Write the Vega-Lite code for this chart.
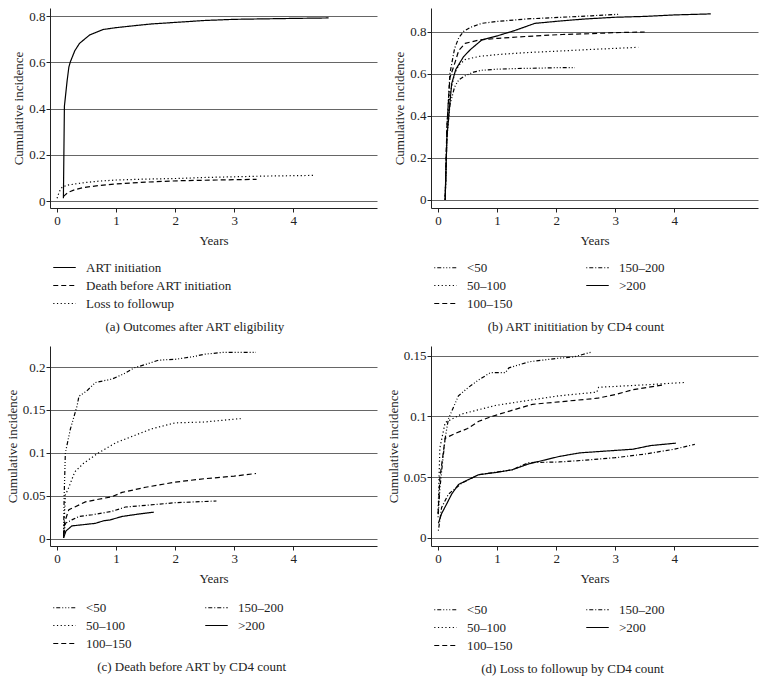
{
  "$schema": "https://vega.github.io/schema/vega-lite/v6.json",
  "padding": {"left": 6, "top": 8, "right": 5, "bottom": 5},
  "background": "white",
  "columns": 2,
  "spacing": {"row": 12, "column": 10},
  "resolve": {"scale": {"strokeDash": "independent"}, "legend": {"strokeDash": "independent"}},
  "config": {
    "font": "Liberation Serif",
    "view": {"stroke": null},
    "axis": {"labelFont": "Liberation Serif", "labelFontSize": 13, "labelColor": "#222", "titleFont": "Liberation Serif", "titleFontSize": 13, "titleFontWeight": "normal", "titleColor": "#222", "domainColor": "#222", "tickColor": "#222", "tickSize": 4, "gridColor": "#666", "gridWidth": 1, "labelPadding": 2},
    "axisY": {"grid": true, "titlePadding": 3, "labelPadding": 1},
    "axisX": {"grid": false, "titlePadding": 7},
    "legend": {"labelFont": "Liberation Serif", "labelFontSize": 13, "labelColor": "#222", "symbolType": "M-1.5,0H1.5", "symbolSize": 225, "symbolStrokeWidth": 1.5, "symbolStrokeColor": "black", "symbolFillColor": "transparent", "labelOffset": 13, "rowPadding": 2, "columnPadding": 70, "direction": "vertical"},
    "title": {"orient": "bottom", "anchor": "middle", "frame": "bounds", "fontSize": 13, "fontWeight": "normal", "font": "Liberation Serif", "color": "#222", "offset": 10},
    "line": {"stroke": "black", "strokeWidth": 1.2}
  },
  "datasets": {
    "a": [
      {"t": 0.107, "y": 0.012, "g": "ART initiation"},
      {"t": 0.115, "y": 0.2, "g": "ART initiation"},
      {"t": 0.124, "y": 0.41, "g": "ART initiation"},
      {"t": 0.17, "y": 0.52, "g": "ART initiation"},
      {"t": 0.2, "y": 0.58, "g": "ART initiation"},
      {"t": 0.226, "y": 0.603, "g": "ART initiation"},
      {"t": 0.3, "y": 0.65, "g": "ART initiation"},
      {"t": 0.38, "y": 0.682, "g": "ART initiation"},
      {"t": 0.55, "y": 0.718, "g": "ART initiation"},
      {"t": 0.78, "y": 0.742, "g": "ART initiation"},
      {"t": 1.0, "y": 0.75, "g": "ART initiation"},
      {"t": 1.29, "y": 0.758, "g": "ART initiation"},
      {"t": 1.6, "y": 0.766, "g": "ART initiation"},
      {"t": 2.08, "y": 0.774, "g": "ART initiation"},
      {"t": 2.5, "y": 0.781, "g": "ART initiation"},
      {"t": 3.0, "y": 0.786, "g": "ART initiation"},
      {"t": 3.5, "y": 0.788, "g": "ART initiation"},
      {"t": 4.0, "y": 0.79, "g": "ART initiation"},
      {"t": 4.6, "y": 0.792, "g": "ART initiation"},
      {"t": 0.107, "y": 0.019, "g": "Death before ART initiation"},
      {"t": 0.15, "y": 0.03, "g": "Death before ART initiation"},
      {"t": 0.21, "y": 0.04, "g": "Death before ART initiation"},
      {"t": 0.3, "y": 0.049, "g": "Death before ART initiation"},
      {"t": 0.44, "y": 0.058, "g": "Death before ART initiation"},
      {"t": 0.7, "y": 0.067, "g": "Death before ART initiation"},
      {"t": 1.0, "y": 0.074, "g": "Death before ART initiation"},
      {"t": 1.5, "y": 0.082, "g": "Death before ART initiation"},
      {"t": 2.08, "y": 0.088, "g": "Death before ART initiation"},
      {"t": 2.7, "y": 0.091, "g": "Death before ART initiation"},
      {"t": 3.38, "y": 0.094, "g": "Death before ART initiation"},
      {"t": 0.0, "y": 0.012, "g": "Loss to followup"},
      {"t": 0.03, "y": 0.035, "g": "Loss to followup"},
      {"t": 0.06, "y": 0.052, "g": "Loss to followup"},
      {"t": 0.095, "y": 0.062, "g": "Loss to followup"},
      {"t": 0.2, "y": 0.07, "g": "Loss to followup"},
      {"t": 0.44, "y": 0.079, "g": "Loss to followup"},
      {"t": 0.7, "y": 0.086, "g": "Loss to followup"},
      {"t": 1.0, "y": 0.091, "g": "Loss to followup"},
      {"t": 1.5, "y": 0.095, "g": "Loss to followup"},
      {"t": 2.08, "y": 0.098, "g": "Loss to followup"},
      {"t": 2.5, "y": 0.102, "g": "Loss to followup"},
      {"t": 3.0, "y": 0.105, "g": "Loss to followup"},
      {"t": 3.5, "y": 0.108, "g": "Loss to followup"},
      {"t": 4.35, "y": 0.111, "g": "Loss to followup"}
    ],
    "b": [
      {"t": 0.12, "y": 0.0, "g": "<50"},
      {"t": 0.15, "y": 0.3, "g": "<50"},
      {"t": 0.2, "y": 0.45, "g": "<50"},
      {"t": 0.28, "y": 0.537, "g": "<50"},
      {"t": 0.35, "y": 0.57, "g": "<50"},
      {"t": 0.46, "y": 0.59, "g": "<50"},
      {"t": 0.6, "y": 0.607, "g": "<50"},
      {"t": 0.74, "y": 0.616, "g": "<50"},
      {"t": 1.0, "y": 0.621, "g": "<50"},
      {"t": 1.3, "y": 0.624, "g": "<50"},
      {"t": 1.7, "y": 0.626, "g": "<50"},
      {"t": 2.1, "y": 0.629, "g": "<50"},
      {"t": 2.32, "y": 0.628, "g": "<50"},
      {"t": 0.12, "y": 0.0, "g": "50–100"},
      {"t": 0.15, "y": 0.3, "g": "50–100"},
      {"t": 0.2, "y": 0.5, "g": "50–100"},
      {"t": 0.28, "y": 0.6, "g": "50–100"},
      {"t": 0.35, "y": 0.64, "g": "50–100"},
      {"t": 0.46, "y": 0.667, "g": "50–100"},
      {"t": 0.7, "y": 0.682, "g": "50–100"},
      {"t": 1.02, "y": 0.691, "g": "50–100"},
      {"t": 1.5, "y": 0.7, "g": "50–100"},
      {"t": 2.1, "y": 0.708, "g": "50–100"},
      {"t": 2.6, "y": 0.715, "g": "50–100"},
      {"t": 3.0, "y": 0.72, "g": "50–100"},
      {"t": 3.39, "y": 0.725, "g": "50–100"},
      {"t": 0.12, "y": 0.0, "g": "100–150"},
      {"t": 0.15, "y": 0.35, "g": "100–150"},
      {"t": 0.2, "y": 0.58, "g": "100–150"},
      {"t": 0.29, "y": 0.656, "g": "100–150"},
      {"t": 0.35, "y": 0.71, "g": "100–150"},
      {"t": 0.46, "y": 0.744, "g": "100–150"},
      {"t": 0.7, "y": 0.76, "g": "100–150"},
      {"t": 1.02, "y": 0.768, "g": "100–150"},
      {"t": 1.5, "y": 0.777, "g": "100–150"},
      {"t": 2.1, "y": 0.786, "g": "100–150"},
      {"t": 2.6, "y": 0.79, "g": "100–150"},
      {"t": 3.0, "y": 0.795, "g": "100–150"},
      {"t": 3.5, "y": 0.798, "g": "100–150"},
      {"t": 0.12, "y": 0.0, "g": "150–200"},
      {"t": 0.15, "y": 0.35, "g": "150–200"},
      {"t": 0.2, "y": 0.6, "g": "150–200"},
      {"t": 0.28, "y": 0.72, "g": "150–200"},
      {"t": 0.35, "y": 0.77, "g": "150–200"},
      {"t": 0.43, "y": 0.8, "g": "150–200"},
      {"t": 0.55, "y": 0.82, "g": "150–200"},
      {"t": 0.74, "y": 0.839, "g": "150–200"},
      {"t": 1.0, "y": 0.848, "g": "150–200"},
      {"t": 1.5, "y": 0.86, "g": "150–200"},
      {"t": 2.1, "y": 0.868, "g": "150–200"},
      {"t": 2.6, "y": 0.875, "g": "150–200"},
      {"t": 3.05, "y": 0.882, "g": "150–200"},
      {"t": 0.12, "y": 0.0, "g": ">200"},
      {"t": 0.15, "y": 0.3, "g": ">200"},
      {"t": 0.23, "y": 0.552, "g": ">200"},
      {"t": 0.3, "y": 0.62, "g": ">200"},
      {"t": 0.43, "y": 0.68, "g": ">200"},
      {"t": 0.55, "y": 0.715, "g": ">200"},
      {"t": 0.74, "y": 0.76, "g": ">200"},
      {"t": 1.02, "y": 0.781, "g": ">200"},
      {"t": 1.3, "y": 0.805, "g": ">200"},
      {"t": 1.64, "y": 0.839, "g": ">200"},
      {"t": 2.1, "y": 0.851, "g": ">200"},
      {"t": 2.5, "y": 0.86, "g": ">200"},
      {"t": 3.0, "y": 0.868, "g": ">200"},
      {"t": 3.5, "y": 0.872, "g": ">200"},
      {"t": 4.0, "y": 0.879, "g": ">200"},
      {"t": 4.62, "y": 0.884, "g": ">200"}
    ],
    "c": [
      {"t": 0.11, "y": 0.001, "g": "<50"},
      {"t": 0.12, "y": 0.05, "g": "<50"},
      {"t": 0.14, "y": 0.1, "g": "<50"},
      {"t": 0.226, "y": 0.128, "g": "<50"},
      {"t": 0.34, "y": 0.155, "g": "<50"},
      {"t": 0.37, "y": 0.166, "g": "<50"},
      {"t": 0.5, "y": 0.172, "g": "<50"},
      {"t": 0.65, "y": 0.182, "g": "<50"},
      {"t": 0.93, "y": 0.186, "g": "<50"},
      {"t": 1.16, "y": 0.193, "g": "<50"},
      {"t": 1.3, "y": 0.199, "g": "<50"},
      {"t": 1.5, "y": 0.203, "g": "<50"},
      {"t": 1.72, "y": 0.208, "g": "<50"},
      {"t": 2.0, "y": 0.209, "g": "<50"},
      {"t": 2.3, "y": 0.212, "g": "<50"},
      {"t": 2.5, "y": 0.215, "g": "<50"},
      {"t": 2.8, "y": 0.217, "g": "<50"},
      {"t": 3.37, "y": 0.217, "g": "<50"},
      {"t": 0.11, "y": 0.003, "g": "50–100"},
      {"t": 0.14, "y": 0.051, "g": "50–100"},
      {"t": 0.2, "y": 0.06, "g": "50–100"},
      {"t": 0.3, "y": 0.078, "g": "50–100"},
      {"t": 0.45, "y": 0.088, "g": "50–100"},
      {"t": 0.7, "y": 0.1, "g": "50–100"},
      {"t": 1.0, "y": 0.112, "g": "50–100"},
      {"t": 1.3, "y": 0.12, "g": "50–100"},
      {"t": 1.6, "y": 0.128, "g": "50–100"},
      {"t": 2.0, "y": 0.135, "g": "50–100"},
      {"t": 2.5, "y": 0.136, "g": "50–100"},
      {"t": 3.11, "y": 0.14, "g": "50–100"},
      {"t": 0.11, "y": 0.005, "g": "100–150"},
      {"t": 0.13, "y": 0.02, "g": "100–150"},
      {"t": 0.2, "y": 0.034, "g": "100–150"},
      {"t": 0.3, "y": 0.037, "g": "100–150"},
      {"t": 0.48, "y": 0.043, "g": "100–150"},
      {"t": 0.7, "y": 0.046, "g": "100–150"},
      {"t": 0.93, "y": 0.049, "g": "100–150"},
      {"t": 1.1, "y": 0.054, "g": "100–150"},
      {"t": 1.5, "y": 0.06, "g": "100–150"},
      {"t": 2.0, "y": 0.066, "g": "100–150"},
      {"t": 2.5, "y": 0.07, "g": "100–150"},
      {"t": 3.0, "y": 0.073, "g": "100–150"},
      {"t": 3.37, "y": 0.076, "g": "100–150"},
      {"t": 0.11, "y": 0.002, "g": "150–200"},
      {"t": 0.14, "y": 0.018, "g": "150–200"},
      {"t": 0.25, "y": 0.022, "g": "150–200"},
      {"t": 0.37, "y": 0.026, "g": "150–200"},
      {"t": 0.6, "y": 0.028, "g": "150–200"},
      {"t": 0.93, "y": 0.032, "g": "150–200"},
      {"t": 1.16, "y": 0.037, "g": "150–200"},
      {"t": 1.5, "y": 0.039, "g": "150–200"},
      {"t": 2.0, "y": 0.042, "g": "150–200"},
      {"t": 2.7, "y": 0.044, "g": "150–200"},
      {"t": 0.11, "y": 0.001, "g": ">200"},
      {"t": 0.15, "y": 0.009, "g": ">200"},
      {"t": 0.25, "y": 0.015, "g": ">200"},
      {"t": 0.65, "y": 0.018, "g": ">200"},
      {"t": 0.79, "y": 0.021, "g": ">200"},
      {"t": 0.9, "y": 0.022, "g": ">200"},
      {"t": 1.1, "y": 0.026, "g": ">200"},
      {"t": 1.4, "y": 0.029, "g": ">200"},
      {"t": 1.64, "y": 0.031, "g": ">200"}
    ],
    "d": [
      {"t": 0.0, "y": 0.017, "g": "<50"},
      {"t": 0.03, "y": 0.04, "g": "<50"},
      {"t": 0.06, "y": 0.055, "g": "<50"},
      {"t": 0.12, "y": 0.082, "g": "<50"},
      {"t": 0.175, "y": 0.098, "g": "<50"},
      {"t": 0.345, "y": 0.117, "g": "<50"},
      {"t": 0.516, "y": 0.124, "g": "<50"},
      {"t": 0.686, "y": 0.13, "g": "<50"},
      {"t": 0.885, "y": 0.136, "g": "<50"},
      {"t": 1.14, "y": 0.136, "g": "<50"},
      {"t": 1.2, "y": 0.14, "g": "<50"},
      {"t": 1.54, "y": 0.145, "g": "<50"},
      {"t": 2.05, "y": 0.148, "g": "<50"},
      {"t": 2.3, "y": 0.149, "g": "<50"},
      {"t": 2.45, "y": 0.151, "g": "<50"},
      {"t": 2.6, "y": 0.153, "g": "<50"},
      {"t": 0.0, "y": 0.02, "g": "50–100"},
      {"t": 0.03, "y": 0.074, "g": "50–100"},
      {"t": 0.12, "y": 0.095, "g": "50–100"},
      {"t": 0.4, "y": 0.102, "g": "50–100"},
      {"t": 0.97, "y": 0.109, "g": "50–100"},
      {"t": 1.5, "y": 0.113, "g": "50–100"},
      {"t": 2.05, "y": 0.117, "g": "50–100"},
      {"t": 2.69, "y": 0.12, "g": "50–100"},
      {"t": 2.72, "y": 0.124, "g": "50–100"},
      {"t": 3.5, "y": 0.126, "g": "50–100"},
      {"t": 4.19, "y": 0.128, "g": "50–100"},
      {"t": 0.0, "y": 0.02, "g": "100–150"},
      {"t": 0.03, "y": 0.049, "g": "100–150"},
      {"t": 0.12, "y": 0.082, "g": "100–150"},
      {"t": 0.29, "y": 0.086, "g": "100–150"},
      {"t": 0.5, "y": 0.09, "g": "100–150"},
      {"t": 0.69, "y": 0.096, "g": "100–150"},
      {"t": 0.91, "y": 0.1, "g": "100–150"},
      {"t": 1.25, "y": 0.105, "g": "100–150"},
      {"t": 1.6, "y": 0.11, "g": "100–150"},
      {"t": 2.05, "y": 0.112, "g": "100–150"},
      {"t": 2.7, "y": 0.115, "g": "100–150"},
      {"t": 3.0, "y": 0.118, "g": "100–150"},
      {"t": 3.3, "y": 0.122, "g": "100–150"},
      {"t": 3.82, "y": 0.126, "g": "100–150"},
      {"t": 0.005, "y": 0.006, "g": "150–200"},
      {"t": 0.06, "y": 0.025, "g": "150–200"},
      {"t": 0.175, "y": 0.036, "g": "150–200"},
      {"t": 0.4, "y": 0.045, "g": "150–200"},
      {"t": 0.686, "y": 0.052, "g": "150–200"},
      {"t": 1.25, "y": 0.056, "g": "150–200"},
      {"t": 1.54, "y": 0.062, "g": "150–200"},
      {"t": 2.05, "y": 0.0625, "g": "150–200"},
      {"t": 2.5, "y": 0.064, "g": "150–200"},
      {"t": 3.0, "y": 0.066, "g": "150–200"},
      {"t": 3.5, "y": 0.069, "g": "150–200"},
      {"t": 4.0, "y": 0.073, "g": "150–200"},
      {"t": 4.35, "y": 0.077, "g": "150–200"},
      {"t": 0.005, "y": 0.012, "g": ">200"},
      {"t": 0.06, "y": 0.02, "g": ">200"},
      {"t": 0.146, "y": 0.028, "g": ">200"},
      {"t": 0.23, "y": 0.036, "g": ">200"},
      {"t": 0.345, "y": 0.044, "g": ">200"},
      {"t": 0.516, "y": 0.048, "g": ">200"},
      {"t": 0.686, "y": 0.052, "g": ">200"},
      {"t": 1.0, "y": 0.054, "g": ">200"},
      {"t": 1.25, "y": 0.056, "g": ">200"},
      {"t": 1.54, "y": 0.061, "g": ">200"},
      {"t": 2.05, "y": 0.067, "g": ">200"},
      {"t": 2.4, "y": 0.07, "g": ">200"},
      {"t": 3.0, "y": 0.072, "g": ">200"},
      {"t": 3.3, "y": 0.073, "g": ">200"},
      {"t": 3.6, "y": 0.076, "g": ">200"},
      {"t": 4.03, "y": 0.078, "g": ">200"}
    ]
  },
  "concat": [
    {
      "data": {"name": "a"},
      "width": 327, "height": 200,
      "title": {"text": "(a)  Outcomes after ART eligibility"},
      "mark": {"type": "line", "stroke": "black", "strokeWidth": 1.2},
      "encoding": {
        "x": {"field": "t", "type": "quantitative", "scale": {"domain": [-0.12, 5.42], "nice": false, "zero": false}, "axis": {"title": "Years", "values": [0, 1, 2, 3, 4], "format": "d"}},
        "y": {"field": "y", "type": "quantitative", "scale": {"domain": [-0.03, 0.835], "nice": false, "zero": false}, "axis": {"title": "Cumulative incidence", "values": [0, 0.2, 0.4, 0.6, 0.8], "format": "~g"}},
        "strokeDash": {"field": "g", "type": "nominal", "scale": {"domain": ["ART initiation", "Death before ART initiation", "Loss to followup"], "range": [[1, 0], [5, 3], [1.2, 2.5]]}, "legend": {"title": null, "orient": "none", "legendX": 6, "legendY": 251, "columns": 1}}
      }
    },
    {
      "data": {"name": "b"},
      "width": 327, "height": 200,
      "title": {"text": "(b)  ART inititiation by CD4 count"},
      "mark": {"type": "line", "stroke": "black", "strokeWidth": 1.2},
      "encoding": {
        "x": {"field": "t", "type": "quantitative", "scale": {"domain": [-0.12, 5.42], "nice": false, "zero": false}, "axis": {"title": "Years", "values": [0, 1, 2, 3, 4], "format": "d"}},
        "y": {"field": "y", "type": "quantitative", "scale": {"domain": [-0.039, 0.912], "nice": false, "zero": false}, "axis": {"title": "Cumulative incidence", "values": [0, 0.2, 0.4, 0.6, 0.8], "format": "~g"}},
        "strokeDash": {"field": "g", "type": "nominal", "scale": {"domain": ["<50", "50–100", "100–150", "150–200", ">200"], "range": [[1, 2, 4, 2, 1, 2, 1, 2], [1.2, 2.5], [5, 3], [1, 2, 4, 2], [1, 0]]}, "legend": {"title": null, "orient": "none", "legendX": 6, "legendY": 251, "columns": 2}}
      }
    },
    {
      "data": {"name": "c"},
      "width": 327, "height": 200,
      "title": {"text": "(c)  Death before ART by CD4 count"},
      "mark": {"type": "line", "stroke": "black", "strokeWidth": 1.2},
      "encoding": {
        "x": {"field": "t", "type": "quantitative", "scale": {"domain": [-0.12, 5.42], "nice": false, "zero": false}, "axis": {"title": "Years", "values": [0, 1, 2, 3, 4], "format": "d"}},
        "y": {"field": "y", "type": "quantitative", "scale": {"domain": [-0.0084, 0.2245], "nice": false, "zero": false}, "axis": {"title": "Cumulative incidence", "values": [0, 0.05, 0.1, 0.15, 0.2], "format": "~g"}},
        "strokeDash": {"field": "g", "type": "nominal", "scale": {"domain": ["<50", "50–100", "100–150", "150–200", ">200"], "range": [[1, 2, 4, 2, 1, 2, 1, 2], [1.2, 2.5], [5, 3], [1, 2, 4, 2], [1, 0]]}, "legend": {"title": null, "orient": "none", "legendX": 6, "legendY": 253, "columns": 2}}
      }
    },
    {
      "data": {"name": "d"},
      "width": 327, "height": 200,
      "title": {"text": "(d)  Loss to followup by CD4 count"},
      "mark": {"type": "line", "stroke": "black", "strokeWidth": 1.2},
      "encoding": {
        "x": {"field": "t", "type": "quantitative", "scale": {"domain": [-0.12, 5.42], "nice": false, "zero": false}, "axis": {"title": "Years", "values": [0, 1, 2, 3, 4], "format": "d"}},
        "y": {"field": "y", "type": "quantitative", "scale": {"domain": [-0.0067, 0.158], "nice": false, "zero": false}, "axis": {"title": "Cumulative incidence", "values": [0, 0.05, 0.1, 0.15], "format": "~g"}},
        "strokeDash": {"field": "g", "type": "nominal", "scale": {"domain": ["<50", "50–100", "100–150", "150–200", ">200"], "range": [[1, 2, 4, 2, 1, 2, 1, 2], [1.2, 2.5], [5, 3], [1, 2, 4, 2], [1, 0]]}, "legend": {"title": null, "orient": "none", "legendX": 6, "legendY": 255, "columns": 2}}
      }
    }
  ]
}
